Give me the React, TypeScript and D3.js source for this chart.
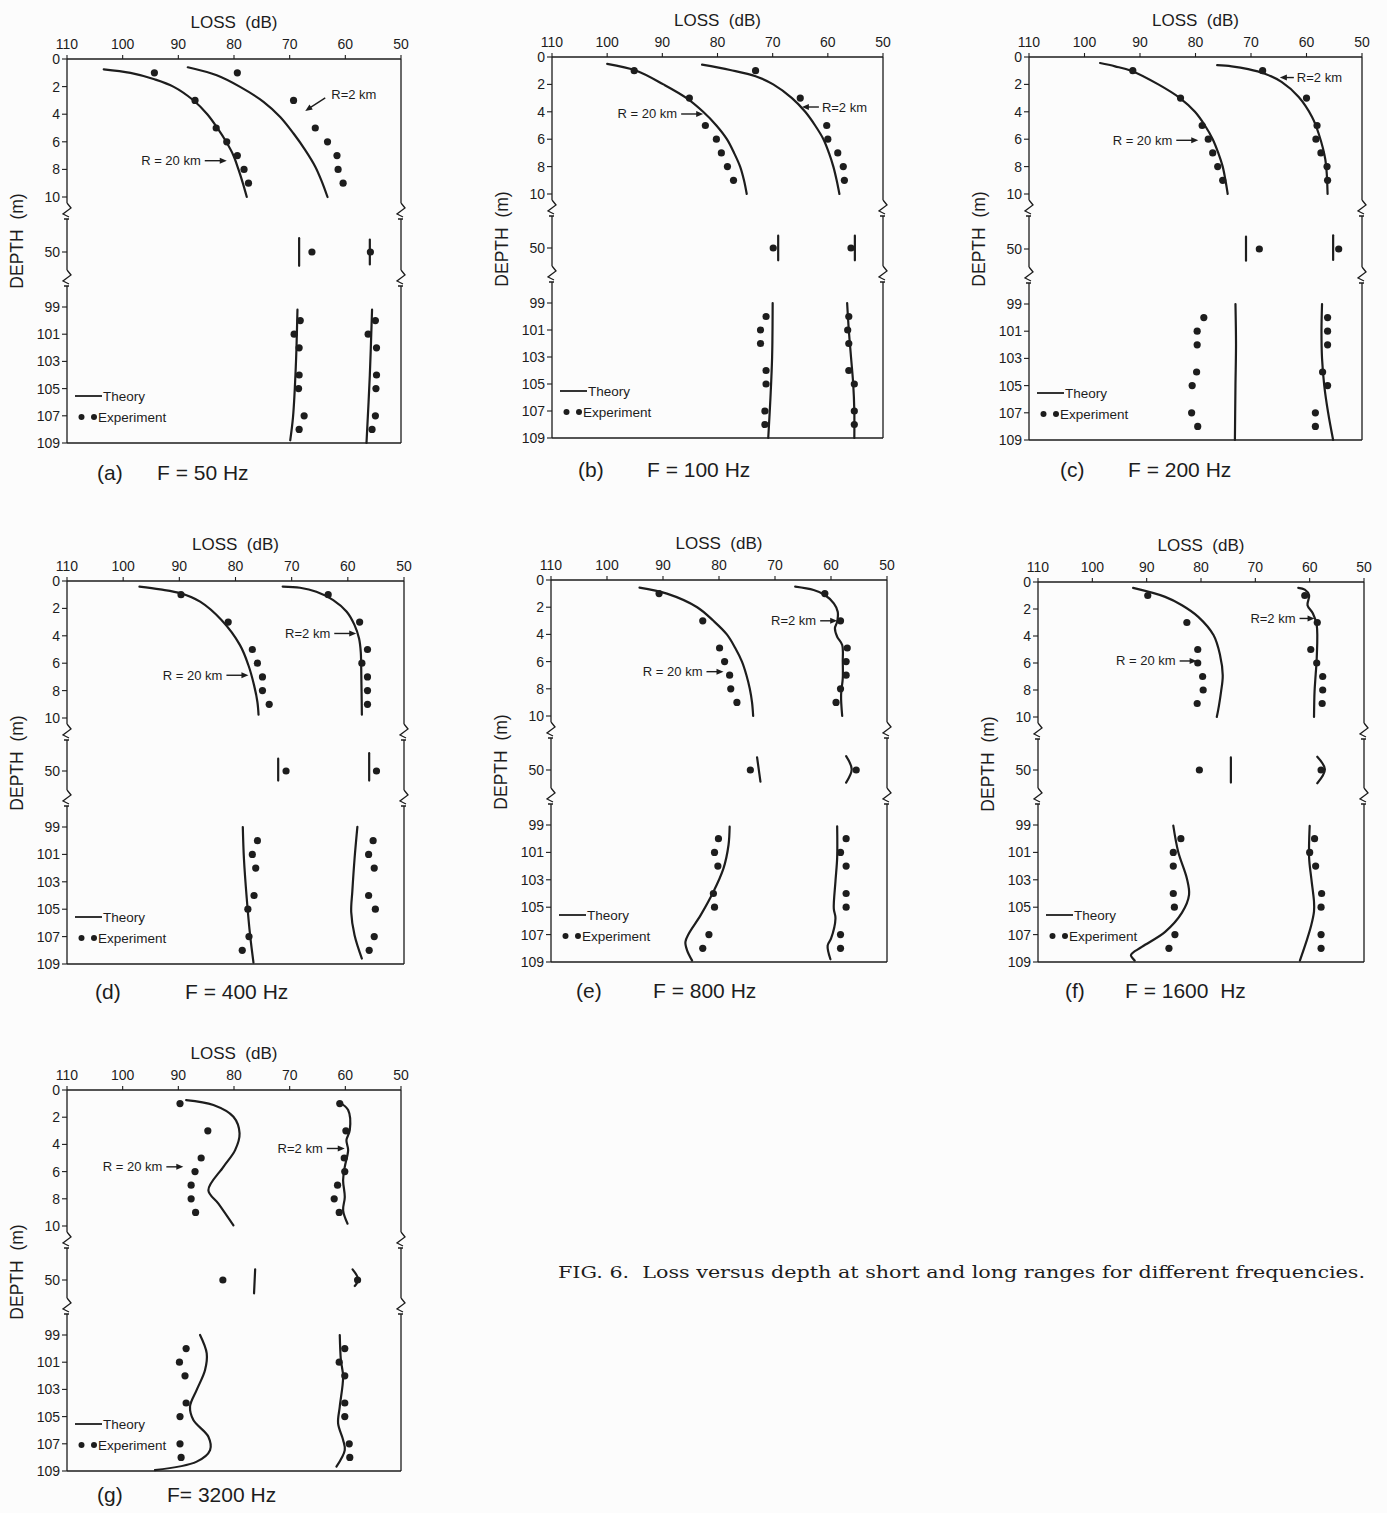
import React from 'react';
import * as d3 from 'd3';

type Pt = [number, number]; // [depth (m), loss (dB)]

const lossTicks = [110, 100, 90, 80, 70, 60, 50];
const depthTicks = [0, 2, 4, 6, 8, 10, 50, 99, 101, 103, 105, 107, 109];
const expDepths = [1, 3, 5, 6, 7, 8, 9, 50, 100, 101, 102, 104, 105, 107, 108];
const panelLetters = ['(a)', '(b)', '(c)', '(d)', '(e)', '(f)', '(g)'];
const freqLabels = ['F = 50 Hz', 'F = 100 Hz', 'F = 200 Hz', 'F = 400 Hz', 'F = 800 Hz', 'F = 1600\u00a0 Hz', 'F= 3200 Hz'];

// theory curves, R = 20 km and R = 2 km, [depth, loss]
const theoryA20: Pt[] = [[0.75, 103.4], [1.01, 98.6], [1.47, 94.3], [2.0, 90.9], [2.99, 87.3], [4.0, 84.8], [4.99, 83.0], [6.0, 81.4], [6.99, 80.1], [8.0, 79.2], [9.01, 78.4], [10, 77.7], [49, 68.3], [51, 68.3], [99.2, 68.6], [103.4, 68.9], [107.1, 69.4], [108.8, 69.9]];
const theoryA2: Pt[] = [[0.6, 88.3], [1.18, 83.1], [2.02, 78.9], [3.1, 74.7], [4.2, 71.7], [5.4, 69.3], [6.6, 67.2], [7.8, 65.4], [8.9, 64.2], [10, 63.2], [49.1, 55.6], [50.9, 55.6], [99.2, 55.2], [104, 55.6], [109, 56.2]];
const theoryB20: Pt[] = [[0.5, 100.0], [1, 94.7], [2, 89.8], [3, 85.6], [4, 82.6], [5, 80.2], [6, 78.3], [7, 77.0], [8, 75.9], [9, 75.2], [10, 74.7], [49.1, 69.0], [50.9, 69.0], [99, 70.0], [103, 70.1], [106, 70.4], [109, 70.8]];
const theoryB2: Pt[] = [[0.56, 82.8], [0.95, 77.7], [1.4, 73.1], [2, 69.9], [3, 66.5], [4, 64.1], [5, 62.3], [6, 60.8], [7, 59.8], [8, 59.0], [9, 58.4], [10, 57.9], [49.1, 55.1], [50.9, 55.1], [99, 56.5], [101, 56.2], [103, 55.8], [105, 55.4], [107, 55.2], [109, 55.2]];
const theoryC20: Pt[] = [[0.44, 97.2], [0.68, 94.5], [1, 91.6], [2, 86.7], [3, 82.8], [4, 80.1], [5, 78.3], [6, 76.9], [7, 75.9], [8, 75.1], [9, 74.6], [10, 74.2], [49.1, 70.9], [50.85, 70.9], [99, 72.8], [102, 72.7], [105, 72.8], [109, 72.9]];
const theoryC2: Pt[] = [[0.6, 76.1], [0.68, 73.5], [0.88, 70.5], [1.22, 67.5], [1.82, 64.5], [2.92, 61.4], [4.38, 59.0], [5.6, 57.8], [7.5, 56.6], [10, 56.2], [49, 55.2], [50.8, 55.2], [99, 57.2], [101, 57.3], [103, 57.2], [105, 56.8], [107, 56.1], [109, 55.2]];
const theoryD20: Pt[] = [[0.41, 97.1], [0.61, 93.4], [0.9, 89.7], [1.51, 86.3], [2.85, 82.5], [4.68, 79.2], [6.15, 77.7], [7.6, 76.7], [8.83, 76.1], [9.76, 75.9], [49.1, 72.4], [50.7, 72.4], [99, 78.7], [101.3, 78.5], [104.2, 78.0], [106.9, 77.4], [108.9, 76.8]];
const theoryD2: Pt[] = [[0.41, 71.6], [0.49, 68.5], [0.78, 65.6], [1.39, 62.6], [2.24, 60.2], [3.22, 58.8], [4.2, 58.0], [5.17, 57.7], [6.88, 57.6], [9.76, 57.5], [48.7, 56.2], [50.7, 56.2], [98.9, 58.3], [101.3, 58.8], [103.7, 59.2], [105.2, 59.4], [106.9, 58.8], [108.6, 57.5]];
const theoryE20: Pt[] = [[0.56, 94.2], [1, 89.3], [2, 83.9], [3, 81.0], [4, 78.6], [5, 77.1], [6, 75.9], [7, 75.1], [8, 74.5], [9, 74.1], [10, 73.9], [49.07, 73.2], [50.85, 72.6], [99.12, 78.1], [100.46, 78.3], [102.17, 79.2], [103.88, 81.0], [105.6, 83.3], [106.93, 85.4], [107.54, 86.0], [108.15, 85.7], [108.9, 84.8]];
const theoryE2: Pt[] = [[0.49, 66.4], [0.74, 63.1], [1.1, 61.1], [1.72, 59.5], [2.33, 58.8], [3.06, 58.9], [3.55, 59.3], [4.17, 58.9], [4.78, 58.0], [6.0, 57.9], [7.23, 57.9], [8.46, 58.2], [10, 58.0], [48.98, 57.3], [49.95, 56.3], [50.93, 57.3], [99.1, 58.9], [101.4, 58.9], [103.1, 59.2], [105.1, 59.5], [105.8, 59.2], [107.3, 60.0], [107.8, 60.6], [108.8, 60.1]];
const theoryF20: Pt[] = [[0.44, 92.5], [1.1, 86.6], [1.72, 83.5], [2.58, 80.5], [3.93, 77.7], [5.4, 76.5], [6.9, 76.0], [8.1, 76.3], [10, 77.1], [49.07, 74.5], [50.93, 74.5], [99.05, 85.1], [100.95, 84.2], [102.9, 82.6], [104.1, 82.2], [105.4, 83.5], [106.8, 86.6], [107.9, 90.9], [108.5, 92.9], [108.9, 92.2]];
const theoryF2: Pt[] = [[0.44, 62.1], [0.57, 60.9], [0.98, 60.1], [1.72, 60.4], [2.33, 59.4], [3.19, 58.7], [5.65, 58.7], [6.88, 58.9], [8.1, 59.1], [10, 59.2], [49.02, 58.6], [49.95, 57.2], [50.98, 58.6], [99.07, 60.0], [101.4, 60.1], [102.9, 59.7], [104.6, 59.2], [105.3, 59.2], [106.3, 59.7], [107.5, 60.6], [108.9, 61.8]];
const theoryG20: Pt[] = [[0.74, 88.6], [1.1, 83.7], [1.97, 80.1], [3.19, 79.0], [4.42, 79.8], [5.65, 81.9], [7.37, 84.6], [8.35, 82.8], [9.95, 80.1], [49.22, 76.2], [50.98, 76.4], [99, 86.1], [100.35, 84.9], [101.57, 85.2], [103.04, 86.7], [104.27, 87.9], [105.25, 87.3], [106.48, 84.6], [107.46, 84.3], [108.31, 86.7], [108.93, 94.2]];
const theoryG2: Pt[] = [[0.93, 61.0], [1.47, 59.5], [2.95, 59.2], [3.69, 59.8], [4.42, 59.5], [5.65, 60.1], [6.63, 60.4], [7.86, 60.1], [8.85, 60.4], [9.83, 59.6], [49.22, 58.7], [49.95, 57.7], [50.44, 58.3], [99, 61.0], [100.84, 60.8], [102.06, 60.4], [104.27, 61.0], [105.5, 61.3], [106.72, 60.4], [107.46, 60.1], [108.68, 61.6]];

// experiment losses at expDepths
const expA20 = [94.3, 87.0, 83.2, 81.3, 79.4, 78.2, 77.4, 66.0, 68.1, 69.2, 68.3, 68.3, 68.4, 67.4, 68.3];
const expA2 = [79.4, 69.3, 65.4, 63.2, 61.5, 61.3, 60.4, 55.5, 54.6, 55.9, 54.4, 54.4, 54.5, 54.6, 55.2];
const expB20 = [95.1, 85.1, 82.2, 80.2, 79.3, 78.2, 77.1, 69.9, 71.2, 72.2, 72.2, 71.2, 71.2, 71.4, 71.4];
const expB2 = [73.1, 65.0, 60.2, 60.0, 58.2, 57.2, 57.0, 55.8, 56.2, 56.4, 56.2, 56.2, 55.2, 55.2, 55.2];
const expC20 = [91.3, 82.7, 78.8, 77.7, 76.9, 76.0, 75.1, 68.5, 78.5, 79.7, 79.7, 79.8, 80.6, 80.7, 79.6];
const expC2 = [67.9, 60.0, 58.1, 58.3, 57.4, 56.3, 56.2, 54.2, 56.2, 56.2, 56.2, 57.1, 56.2, 58.4, 58.4];
const expD20 = [89.7, 81.3, 77.0, 76.1, 75.2, 75.2, 74.0, 71.0, 76.1, 77.0, 76.4, 76.7, 77.8, 77.6, 78.8];
const expD2 = [63.5, 57.9, 56.5, 57.5, 56.5, 56.5, 56.5, 54.9, 55.5, 56.3, 55.3, 56.3, 55.1, 55.3, 56.2];
const expE20 = [90.7, 82.9, 79.9, 79.0, 78.1, 77.9, 76.8, 74.4, 80.1, 80.8, 80.2, 81.0, 80.8, 81.8, 82.9];
const expE2 = [61.1, 58.3, 57.1, 57.3, 57.3, 58.3, 59.1, 55.5, 57.3, 58.3, 57.3, 57.3, 57.3, 58.3, 58.3];
const expF20 = [89.8, 82.6, 80.6, 80.6, 79.7, 79.6, 80.7, 80.3, 83.7, 85.1, 85.1, 85.1, 84.9, 84.8, 85.9];
const expF2 = [60.9, 58.6, 59.8, 58.7, 57.6, 57.6, 57.7, 57.9, 59.1, 60.0, 58.9, 57.8, 57.9, 57.9, 57.9];
const expG20 = [89.7, 84.7, 85.9, 87.0, 87.7, 87.7, 86.9, 82.0, 88.6, 89.8, 88.8, 88.6, 89.7, 89.7, 89.5];
const expG2 = [61.0, 59.9, 60.2, 60.1, 61.4, 62.0, 61.1, 57.8, 60.1, 61.1, 60.1, 60.1, 60.1, 59.3, 59.2];

// where the range labels point, [depth, loss]
const tips20: Pt[] = [[7.37, 81.3], [4.16, 82.6], [6.08, 79.5], [6.88, 77.7], [6.74, 79.2], [5.85, 80.8], [5.65, 89.1]];
const tips2: Pt[] = [[3.76, 67.2], [3.65, 64.7], [1.5, 64.8], [3.83, 58.5], [3.0, 58.9], [2.7, 59.1], [4.3, 60.1]];

const theory20 = [theoryA20, theoryB20, theoryC20, theoryD20, theoryE20, theoryF20, theoryG20];
const theory2 = [theoryA2, theoryB2, theoryC2, theoryD2, theoryE2, theoryF2, theoryG2];
const exp20 = [expA20, expB20, expC20, expD20, expE20, expF20, expG20];
const exp2 = [expA2, expB2, expC2, expD2, expE2, expF2, expG2];

// page layout of each panel (pixels)
const layouts = [
  { left: 67, right: 401, top: 59, y10: 197, y50: 252, y99: 307, bottom: 443, capDy: 37, letterDx: 30, freqDx: 90, len20: 22, dir2: 'diag', len2: 22 },
  { left: 552, right: 883, top: 57, y10: 194, y50: 248, y99: 303, bottom: 438, capDy: 39, letterDx: 26, freqDx: 95, len20: 22, dir2: 'left', len2: 17 },
  { left: 1029, right: 1362, top: 57, y10: 194, y50: 249, y99: 304, bottom: 440, capDy: 37, letterDx: 31, freqDx: 99, len20: 22, dir2: 'left', len2: 14 },
  { left: 67, right: 404, top: 581, y10: 718, y50: 771, y99: 827, bottom: 964, capDy: 35, letterDx: 28, freqDx: 118, len20: 22, dir2: 'right', len2: 22 },
  { left: 551, right: 887, top: 580, y10: 716, y50: 770, y99: 825, bottom: 962, capDy: 36, letterDx: 25, freqDx: 102, len20: 17, dir2: 'right', len2: 17 },
  { left: 1038, right: 1364, top: 582, y10: 717, y50: 770, y99: 825, bottom: 962, capDy: 36, letterDx: 27, freqDx: 87, len20: 17, dir2: 'right', len2: 15 },
  { left: 67, right: 401, top: 1090, y10: 1226, y50: 1280, y99: 1335, bottom: 1471, capDy: 31, letterDx: 30, freqDx: 100, len20: 17, dir2: 'right', len2: 18 },
];

const SANS = "'Liberation Sans', Arial, Helvetica, sans-serif";
const INK = '#1d1d1d';

const Arrow = ({ tx, ty, fx, fy }) => {
  const a = Math.atan2(ty - fy, tx - fx);
  const h = 7, w = 3;
  const p1 = [tx - h * Math.cos(a) + w * Math.sin(a), ty - h * Math.sin(a) - w * Math.cos(a)];
  const p2 = [tx - h * Math.cos(a) - w * Math.sin(a), ty - h * Math.sin(a) + w * Math.cos(a)];
  return (
    <g>
      <line x1={fx} y1={fy} x2={tx - 4 * Math.cos(a)} y2={ty - 4 * Math.sin(a)} stroke={INK} strokeWidth={1.4} />
      <polygon points={`${tx},${ty} ${p1[0]},${p1[1]} ${p2[0]},${p2[1]}`} fill={INK} />
    </g>
  );
};

const Label = ({ tip, dir, len, text, x, y }) => {
  const tx = x(tip[1]);
  const ty = y(tip[0]);
  let fx = tx - len, fy = ty, lx = fx - 4, ly = ty, anchor = 'end';
  if (dir === 'left') { fx = tx + len; lx = fx + 3; anchor = 'start'; }
  if (dir === 'diag') { fx = tx + 20; fy = ty - 13; lx = fx + 6; ly = fy - 3; anchor = 'start'; }
  return (
    <g>
      <Arrow tx={tx} ty={ty} fx={fx} fy={fy} />
      <text x={lx} y={ly} textAnchor={anchor} dominantBaseline="central" fontSize={13} fill={INK} style={{ whiteSpace: 'pre' }}>{text}</text>
    </g>
  );
};

const Panel = ({ i }) => {
  const L = layouts[i];
  const x = d3.scaleLinear().domain([110, 50]).range([L.left, L.right]);
  const pm = (L.y10 - L.top) / 10;
  const y = d3.scaleLinear()
    .domain([0, 10, 48, 52, 99, 109])
    .range([L.top, L.y10, L.y50 - 2 * pm, L.y50 + 2 * pm, L.y99, L.bottom]);
  const line = d3.line<Pt>().x(d => x(d[1])).y(d => y(d[0])).curve(d3.curveCatmullRom.alpha(0.5));
  const segs = (pts: Pt[]) => [
    pts.filter(p => p[0] <= 11),
    pts.filter(p => p[0] > 40 && p[0] < 60),
    pts.filter(p => p[0] >= 90),
  ];
  const b1 = L.y10 + 16;
  const b2 = L.y99 - 27;

  // side of the frame, broken twice with zig-zags
  const side = (X: number) => {
    const zig = (b: number) => `M${X},${b - 10}L${X + 4},${b - 5}L${X - 4},${b + 1}L${X + 2},${b + 4}M${X - 3},${b + 6}L${X + 2},${b + 6}`;
    return `M${X},${L.top}V${b1 - 10}${zig(b1)}M${X},${b1 + 6}V${b2 - 10}${zig(b2)}M${X},${b2 + 6}V${L.bottom}`;
  };

  const dots = (vals: number[]) => vals.map((v, k) => (
    <circle key={k} cx={x(v)} cy={y(expDepths[k])} r={3.6} fill={INK} />
  ));

  return (
    <g fontFamily={SANS} fill={INK}>
      {/* frame */}
      <line x1={L.left} x2={L.right} y1={L.top} y2={L.top} stroke={INK} strokeWidth={1.3} />
      <line x1={L.left} x2={L.right} y1={L.bottom} y2={L.bottom} stroke={INK} strokeWidth={1.3} />
      <path d={side(L.left)} fill="none" stroke={INK} strokeWidth={1.3} />
      <path d={side(L.right)} fill="none" stroke={INK} strokeWidth={1.3} />

      {/* loss axis */}
      {lossTicks.map(t => (
        <g key={t}>
          <line x1={x(t)} x2={x(t)} y1={L.top} y2={L.top - 4} stroke={INK} strokeWidth={1.1} />
          <text x={x(t)} y={L.top - 10} textAnchor="middle" fontSize={14}>{t}</text>
        </g>
      ))}
      <text x={(L.left + L.right) / 2} y={L.top - 31} textAnchor="middle" fontSize={17} style={{ whiteSpace: 'pre' }}>LOSS  (dB)</text>

      {/* depth axis */}
      {depthTicks.map(t => (
        <g key={t}>
          <line x1={L.left - 5} x2={L.left} y1={y(t)} y2={y(t)} stroke={INK} strokeWidth={1.1} />
          <text x={L.left - 7} y={y(t)} textAnchor="end" dominantBaseline="central" fontSize={14}>{t}</text>
        </g>
      ))}
      <text transform={`translate(${L.left - 50},${L.top + 182}) rotate(-90)`} textAnchor="middle" dominantBaseline="central" fontSize={17.5} style={{ whiteSpace: 'pre' }}>DEPTH  (m)</text>

      {/* theory */}
      {[...segs(theory20[i]), ...segs(theory2[i])].map((s, k) => (
        <path key={k} d={line(s) || ''} fill="none" stroke={INK} strokeWidth={2.2} strokeLinecap="round" />
      ))}

      {/* experiment */}
      {dots(exp20[i])}
      {dots(exp2[i])}

      {/* range labels */}
      <Label tip={tips20[i]} dir="right" len={L.len20} text="R = 20 km" x={x} y={y} />
      <Label tip={tips2[i]} dir={L.dir2} len={L.len2} text="R=2 km" x={x} y={y} />

      {/* legend */}
      <line x1={L.left + 8} x2={L.left + 35} y1={L.bottom - 47} y2={L.bottom - 47} stroke={INK} strokeWidth={1.8} />
      <text x={L.left + 36} y={L.bottom - 47} dominantBaseline="central" fontSize={13.5}>Theory</text>
      <circle cx={L.left + 14.5} cy={L.bottom - 26} r={3} fill={INK} />
      <circle cx={L.left + 27} cy={L.bottom - 26} r={3} fill={INK} />
      <text x={L.left + 31} y={L.bottom - 26} dominantBaseline="central" fontSize={13.5}>Experiment</text>

      {/* caption */}
      <text x={L.left + L.letterDx} y={L.bottom + L.capDy} fontSize={21}>{panelLetters[i]}</text>
      <text x={L.left + L.freqDx} y={L.bottom + L.capDy} fontSize={21} style={{ whiteSpace: 'pre' }}>{freqLabels[i]}</text>
    </g>
  );
};

export default function App() {
  return (
    <svg width={1387} height={1513} style={{ position: 'absolute', left: 0, top: 0, background: '#fcfcfc' }}>
      {layouts.map((_, i) => <Panel key={i} i={i} />)}
      <text x={558} y={1278} fontFamily="'DejaVu Serif', 'Liberation Serif', serif" fontSize={16} fill={INK}
        textLength={807} lengthAdjust="spacingAndGlyphs" style={{ whiteSpace: 'pre' }}>
        FIG. 6.  Loss versus depth at short and long ranges for different frequencies.
      </text>
    </svg>
  );
}
